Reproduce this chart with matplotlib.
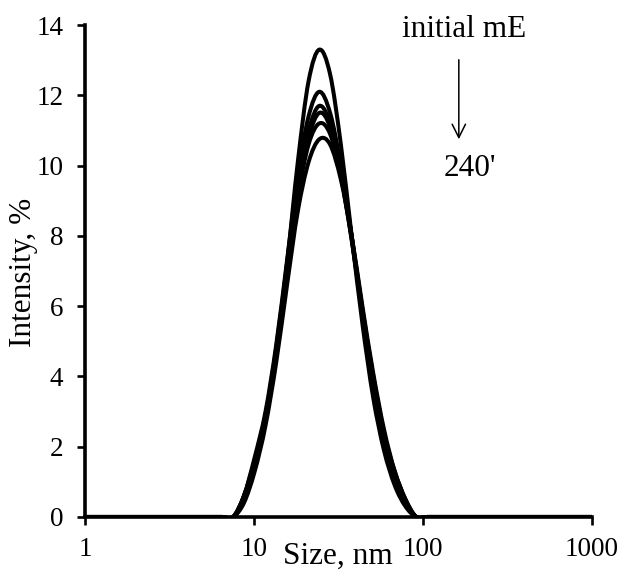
import matplotlib
matplotlib.use('Agg')
import matplotlib.pyplot as plt
from matplotlib.path import Path
from matplotlib.patches import PathPatch
import numpy

plt.rcParams['font.family'] = ['Liberation Serif', 'DejaVu Serif']

# DLS size bins (nm)
sizes = [0.9649, 1.117, 1.294, 1.499, 1.736, 2.01, 2.328, 2.696, 3.122, 3.615,
         4.187, 4.849, 5.615, 6.503, 7.531, 8.721, 10.1, 11.7, 13.54, 15.69,
         18.17, 21.04, 24.36, 28.21, 32.67, 37.84, 43.82, 50.75, 58.77, 68.06,
         78.82, 91.28, 105.7, 122.4, 141.8, 164.2, 190.1, 220.2, 255.0, 295.3,
         342.0, 396.1, 458.7, 531.2, 615.1, 712.4, 825.0, 955.4, 1106.0]

lead = [0] * 14
tail = [0] * 17
# intensity (%) for bins 7.531 ... 91.28, from initial mE to 240'
peak_0 = [0, 0.6, 1.6, 2.9, 4.6, 7.2, 10.1, 12.4, 13.3, 12.6, 10.6, 8.0, 5.5, 3.4, 1.9, 0.9, 0.3, 0]
peak_1 = [0, 0.6, 1.7, 3.0, 4.9, 7.3, 9.7, 11.4, 12.1, 11.5, 10.0, 8.0, 5.8, 3.8, 2.2, 1.1, 0.4, 0]
peak_2 = [0, 0.6, 1.6, 2.9, 4.8, 7.2, 9.5, 11.0, 11.7, 11.2, 9.8, 7.9, 5.8, 3.9, 2.3, 1.2, 0.4, 0]
peak_3 = [0, 0.5, 1.5, 2.8, 4.7, 7.0, 9.3, 10.8, 11.5, 11.1, 9.8, 8.0, 5.9, 4.0, 2.4, 1.2, 0.45, 0]
peak_4 = [0, 0.5, 1.5, 2.8, 4.6, 6.9, 9.1, 10.6, 11.2, 10.9, 9.7, 7.9, 5.9, 4.0, 2.4, 1.3, 0.5, 0]
peak_5 = [0, 0.4, 1.3, 2.6, 4.4, 6.6, 8.7, 10.1, 10.75, 10.6, 9.6, 8.0, 6.0, 4.1, 2.5, 1.3, 0.5, 0]
curves = [peak_0, peak_1, peak_2, peak_3, peak_4, peak_5]


def smooth_path(xs, ys):
    # excel-like smoothed line: catmull-rom segments as cubic beziers (in log x)
    lx = numpy.log10(xs)
    ys = numpy.asarray(ys, dtype=float)
    pts = numpy.column_stack([lx, ys])
    pts = numpy.vstack([pts[0], pts, pts[-1]])
    verts = [pts[1]]
    codes = [Path.MOVETO]
    for i in range(1, len(pts) - 2):
        c1 = pts[i] + (pts[i + 1] - pts[i - 1]) / 6
        c2 = pts[i + 1] - (pts[i + 2] - pts[i]) / 6
        verts += [c1, c2, pts[i + 1]]
        codes += [Path.CURVE4] * 3
    verts = numpy.array(verts)
    verts[:, 0] = 10 ** verts[:, 0]
    return Path(verts, codes)


fig = plt.figure(figsize=(6.19, 5.71), dpi=100)
ax = fig.add_axes([0.1373, 0.0946, 0.819, 0.8616])
ax.set_xscale('log')
ax.set_xlim(1, 1000)
ax.set_ylim(0, 14)

for c in curves:
    vals = lead + c + tail
    ax.add_patch(PathPatch(smooth_path(sizes, vals), fill=False, edgecolor='black',
                           lw=2.9, capstyle='round', joinstyle='round', clip_on=True))

for s in ['top', 'right']:
    ax.spines[s].set_visible(False)
for s in ['left', 'bottom']:
    ax.spines[s].set_linewidth(2.6)

ax.set_yticks(range(0, 15, 2))
ax.set_xticks([1, 10, 100, 1000])
ax.set_xticklabels(['1', '10', '100', '1000'])
ax.minorticks_off()
ax.tick_params(axis='both', direction='out', length=5.5, width=1.9, labelsize=19.5)
ax.tick_params(axis='x', pad=9)
ax.tick_params(axis='y', pad=10)

ax.set_xlabel('Size, nm', fontsize=22.5, va='baseline')
ax.xaxis.set_label_coords(0.499, -0.0955)
ax.set_ylabel('Intensity, %', fontsize=22.5, va='center')
ax.yaxis.set_label_coords(-0.122, 0.498)

ax.text(175, 13.86, 'initial mE', fontsize=22.5, ha='center', va='center')
ax.annotate('', xy=(163, 10.67), xytext=(163, 13.09),
            arrowprops=dict(arrowstyle='->', color='black', lw=1.1,
                            mutation_scale=24))
ax.text(190, 9.93, "240'", fontsize=22.5, ha='center', va='center')

fig.savefig('out.png', dpi=100)
